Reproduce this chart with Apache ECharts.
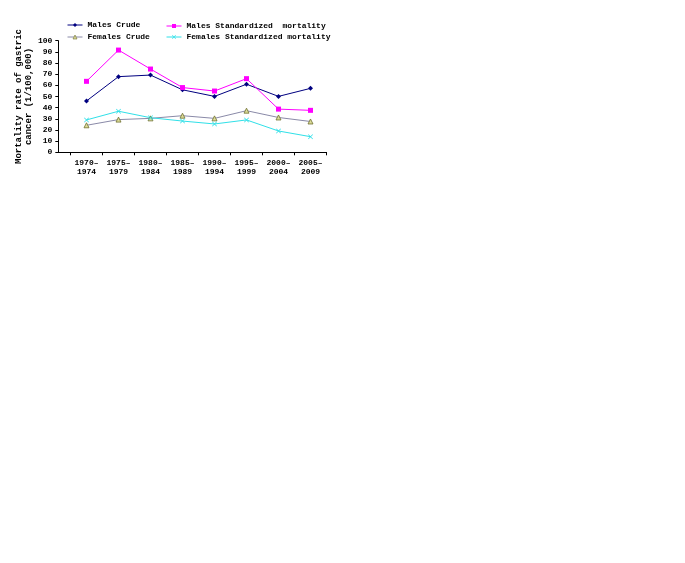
<!DOCTYPE html>
<html>
<head>
<meta charset="utf-8">
<script src="https://cdn.jsdelivr.net/npm/echarts@6/dist/echarts.min.js"></script>
<style>html,body{margin:0;padding:0;background:#fff;}#c{width:685px;height:563px;}</style>
</head>
<body>
<div id="c"></div>
<script>
const categories = ['1970–\n1974','1975–\n1979','1980–\n1984','1985–\n1989','1990–\n1994','1995–\n1999','2000–\n2004','2005–\n2009'];
const malesCrude = [46.0, 67.8, 69.2, 56.0, 50.1, 61.0, 50.1, 57.3];
const femalesCrude = [24.2, 29.3, 30.4, 32.8, 30.4, 37.3, 31.2, 27.6];
const malesStd = [63.6, 91.6, 74.6, 58.0, 54.9, 66.0, 38.7, 37.6];
const femalesStd = [29.0, 36.8, 31.0, 28.0, 25.4, 29.0, 19.1, 14.0];
const yTicks = {min: 0, max: 100, interval: 10};

const FONT = '"Liberation Mono", "DejaVu Sans Mono", monospace';
const txt = {fontFamily: FONT, fontWeight: 'bold', fontSize: 8, color: '#000'};
const crossPath = 'path://M0,1L1,0L5,4L9,0L10,1L6,5L10,9L9,10L5,6L1,10L0,9L4,5Z';

const chart = echarts.init(document.getElementById('c'), null, {renderer: 'canvas'});
chart.setOption({
  animation: false,
  backgroundColor: '#fff',
  grid: [
    {left: 70.5, right: 358.5, top: 40.7, bottom: 410.7},
    {left: 58.3, right: 358.5, top: 40.7, bottom: 410.7}
  ],
  legend: [
    {
      orient: 'vertical', left: 67, top: 21, itemWidth: 15, itemHeight: 5, itemGap: 4,
      textStyle: txt, padding: 0, lineStyle: {width: 1},
      data: ['Males Crude', {name: 'Females Crude', itemStyle: {borderWidth: 0.6}}]
    },
    {
      orient: 'vertical', left: 166, top: 22, itemWidth: 15, itemHeight: 5, itemGap: 3,
      textStyle: txt, padding: 0, lineStyle: {width: 1},
      data: ['Males Standardized  mortality', 'Females Standardized mortality']
    }
  ],
  xAxis: [
    {
      type: 'category', data: categories, gridIndex: 0, boundaryGap: true,
      axisLine: {show: true, lineStyle: {color: '#000', width: 1}},
      axisTick: {show: true, length: 3, lineStyle: {color: '#000'}},
      axisLabel: Object.assign({margin: 6, lineHeight: 9, interval: 0}, txt),
      splitLine: {show: false}
    },
    {
      type: 'value', gridIndex: 1, min: 0, max: 1,
      axisLine: {show: true, onZero: false, lineStyle: {color: '#000', width: 1}},
      axisTick: {show: false}, axisLabel: {show: false}, splitLine: {show: false}
    }
  ],
  yAxis: [
    {
      type: 'value', gridIndex: 0, min: yTicks.min, max: yTicks.max, interval: yTicks.interval,
      offset: 12.2,
      name: 'Mortality rate of gastric\ncancer (1/100,000)',
      nameLocation: 'middle', nameGap: 23, nameRotate: 90,
      nameTextStyle: {fontFamily: FONT, fontWeight: 'bold', fontSize: 9, color: '#000', lineHeight: 10},
      axisLine: {show: true, lineStyle: {color: '#000', width: 1}},
      axisTick: {show: true, length: 3, lineStyle: {color: '#000'}},
      axisLabel: Object.assign({margin: 6}, txt),
      splitLine: {show: false}
    },
    {
      type: 'value', gridIndex: 1, show: false, min: 0, max: 1
    }
  ],
  series: [
    {
      name: 'Males Crude', type: 'line', data: malesCrude,
      symbol: 'diamond', symbolSize: 5,
      itemStyle: {color: '#000080'}, lineStyle: {color: '#000080', width: 1}
    },
    {
      name: 'Females Crude', type: 'line', data: femalesCrude,
      symbol: 'triangle', symbolSize: 5,
      itemStyle: {color: '#dcdc98', borderColor: '#707030', borderWidth: 0.8},
      lineStyle: {color: '#8a8aa8', width: 1}
    },
    {
      name: 'Males Standardized  mortality', type: 'line', data: malesStd,
      symbol: 'rect', symbolSize: 5,
      itemStyle: {color: '#ff00ff'}, lineStyle: {color: '#ff00ff', width: 1}
    },
    {
      name: 'Females Standardized mortality', type: 'line', data: femalesStd,
      symbol: crossPath, symbolSize: 5,
      itemStyle: {color: '#30e0e8'}, lineStyle: {color: '#30e0e8', width: 1}
    }
  ]
});
</script>
</body>
</html>
